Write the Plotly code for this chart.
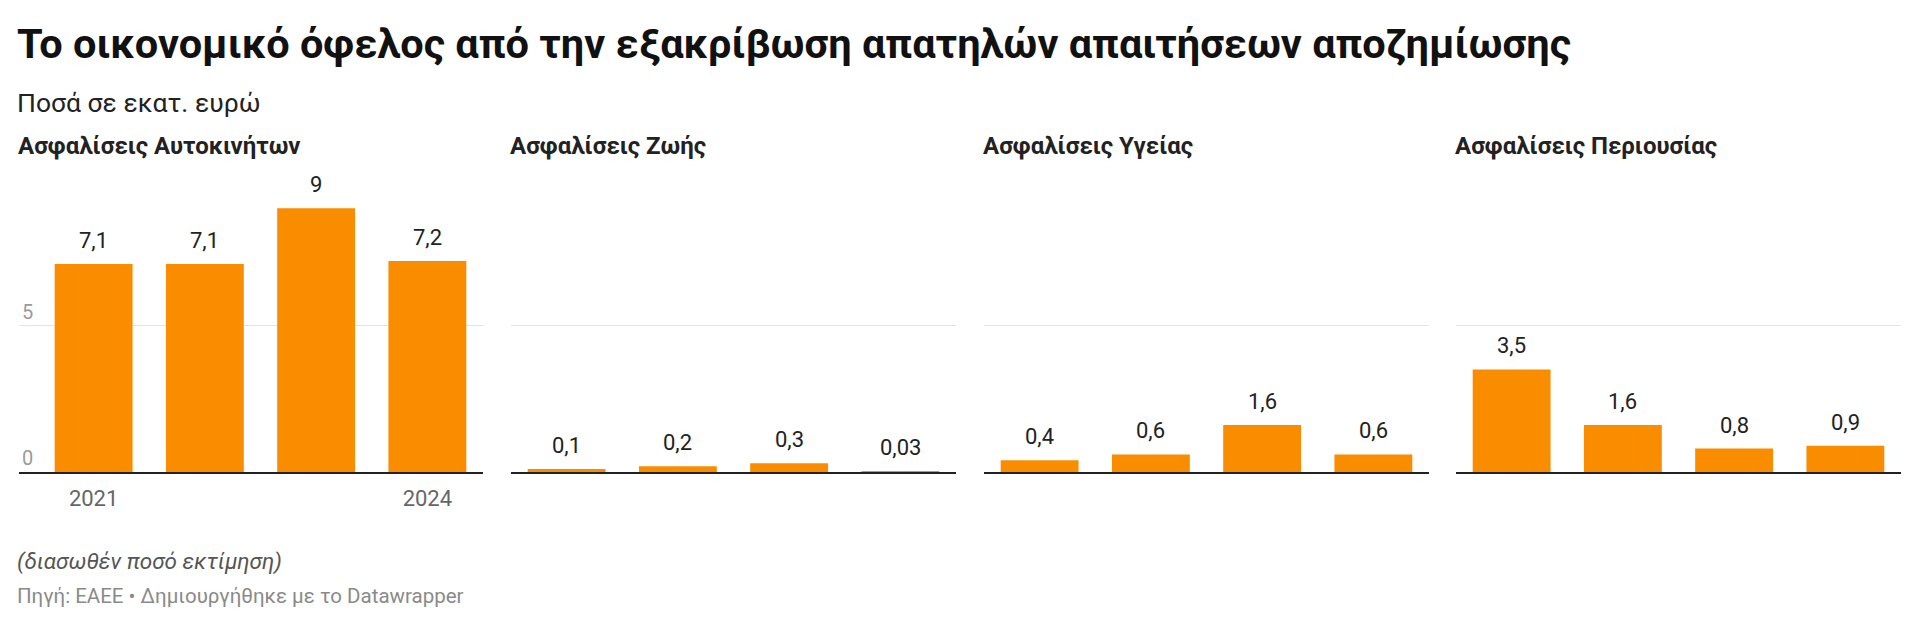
import plotly.graph_objects as go

# data
years = [2021, 2022, 2023, 2024]
panel_titles = ["Ασφαλίσεις Αυτοκινήτων", "Ασφαλίσεις Ζωής", "Ασφαλίσεις Υγείας", "Ασφαλίσεις Περιουσίας"]
car = [7.1, 7.1, 9, 7.2]
life = [0.1, 0.2, 0.3, 0.03]
health = [0.4, 0.6, 1.6, 0.6]
property_ = [3.5, 1.6, 0.8, 0.9]
series = [car, life, health, property_]
y_ticks = [0, 5]
x_ticks_shown = [2021, 2024]

# page has an 8px body margin, so the figure is a bit smaller and shifted
OFF = 8
W, H = 1920 - OFF, 627 - OFF
ORANGE = "#fa8c00"
FONT = "Roboto"

def px(x):
    return (x - OFF) / W

def py(y):
    return 1 - (y - OFF) / H

# panel pixel extents (left, right) in the final picture
panels_px = [(19, 483), (511, 956), (984, 1429), (1456, 1901)]
base_px, top_px = 472, 179
ymax = 10

def fmt(v):
    return ("%g" % v).replace(".", ",")

fig = go.Figure()
layout = {}
for i, vals in enumerate(series):
    n = "" if i == 0 else str(i + 1)
    fig.add_trace(go.Bar(x=years, y=vals, marker_color=ORANGE, marker_line_width=0,
                         width=0.7, xaxis="x" + n, yaxis="y" + n, hoverinfo="skip"))
    l, r = panels_px[i]
    left_pad = 0.5 + (19 / 111.25 if i == 0 else 0)
    layout["xaxis" + n] = dict(
        domain=[px(l), px(r)], anchor="y" + n,
        range=[years[0] - left_pad, years[-1] + 0.5], showline=True, linecolor="#222", linewidth=2,
        showgrid=False, zeroline=False, ticks="", tickvals=x_ticks_shown, tickformat="d",
        showticklabels=(i == 0), tickfont=dict(family=FONT, size=22, color="#666"),
        ticklabelstandoff=6, fixedrange=True)
    layout["yaxis" + n] = dict(
        domain=[py(base_px), py(top_px)], anchor="x" + n,
        range=[0, ymax], tickvals=y_ticks, showgrid=True, gridcolor="#e3e3e3",
        gridwidth=1, zeroline=False, ticks="", showticklabels=(i == 0),
        ticklabelposition="inside top", tickfont=dict(family=FONT, size=20, color="#9a9a9a"),
        fixedrange=True)
    # value labels
    for x, v in zip(years, vals):
        fig.add_annotation(x=x, y=v, xref="x" + n, yref="y" + n, text=fmt(v),
                           showarrow=False, yanchor="bottom", yshift=9,
                           font=dict(family=FONT, size=22, color="#222"))
    # panel title
    fig.add_annotation(x=px(l - 3), y=py(130), xref="paper", yref="paper",
                       text="<b>" + panel_titles[i] + "</b>", showarrow=False,
                       xanchor="left", yanchor="top",
                       font=dict(family=FONT, size=24, color="#222"))

fig.add_annotation(x=px(15), y=py(17), xref="paper", yref="paper",
                   text="<b>Το οικονομικό όφελος από την εξακρίβωση απατηλών απαιτήσεων αποζημίωσης</b>",
                   showarrow=False, xanchor="left", yanchor="top",
                   font=dict(family=FONT, size=41.5, color="#111"))
fig.add_annotation(x=px(15), y=py(84.5), xref="paper", yref="paper",
                   text="Ποσά σε εκατ. ευρώ", showarrow=False, xanchor="left", yanchor="top",
                   font=dict(family=FONT, size=26.5, color="#222"))
fig.add_annotation(x=px(15), y=py(546), xref="paper", yref="paper",
                   text="<i>(διασωθέν ποσό εκτίμηση)</i>", showarrow=False,
                   xanchor="left", yanchor="top",
                   font=dict(family=FONT, size=22.5, color="#555"))
fig.add_annotation(x=px(15), y=py(581.5), xref="paper", yref="paper",
                   text="Πηγή: ΕΑΕΕ • Δημιουργήθηκε με το Datawrapper", showarrow=False,
                   xanchor="left", yanchor="top",
                   font=dict(family=FONT, size=20.5, color="#8a8a8a"))

fig.update_layout(width=W, height=H, margin=dict(l=0, r=0, t=0, b=0),
                  plot_bgcolor="white", paper_bgcolor="white", showlegend=False,
                  font=dict(family=FONT), **layout)

fig.write_html("out.html", config={"displayModeBar": False})
